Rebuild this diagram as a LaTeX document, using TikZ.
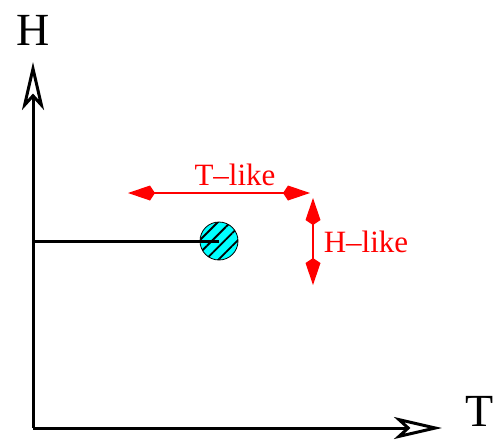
\documentclass[tikz,border=0pt]{standalone}
\usepackage{fontspec}
\setmainfont{Liberation Serif}
\usetikzlibrary{arrows.meta,patterns.meta}
\definecolor{cyanrgb}{RGB}{0,255,255}
\definecolor{redrgb}{RGB}{255,0,0}
\begin{document}
\begin{tikzpicture}[x=1pt,y=-1pt,
  axis/.style={line width=3pt,-{Stealth[open,length=48pt,width=22pt,inset=12pt,line width=3pt]}},
  redarr/.style={redrgb,line width=2pt,{Kite[length=27pt,width=15pt,inset=5pt]}-{Kite[length=27pt,width=15pt,inset=5pt]}},
  lbl/.style={redrgb,font=\fontsize{31}{34}\selectfont,inner sep=0pt},
  axlbl/.style={font=\fontsize{46}{50}\selectfont,inner sep=0pt}]
\useasboundingbox (0,0) rectangle (495,440);
\coordinate (O) at (33,428);
\coordinate (Htip) at (33,62);
\coordinate (Ttip) at (442,428);
\draw[axis] (O) -- (Htip);
\draw[axis] (O) -- (Ttip);
\node[axlbl] (H) at (33,30) {H};
\node[axlbl] (T) at (480,411) {T};
\coordinate (L) at (33,241);
\node[circle,draw=black,line width=0.8pt,minimum size=38pt,inner sep=0pt,
  preaction={fill=cyanrgb},pattern={Lines[angle=45,distance=9pt,line width=1.8pt]},pattern color=black] (P) at (219,241) {};
\draw[line width=3pt] (L) -- (P.center);
\coordinate (TL1) at (128,193);
\coordinate (TL2) at (310,193);
\draw[redarr] (TL1) -- (TL2);
\node[lbl] (tl) at (235,175) {T--like};
\coordinate (HL1) at (313,198);
\coordinate (HL2) at (313,285);
\draw[redarr] (HL1) -- (HL2);
\node[lbl] (hl) at (366,242) {H--like};
\end{tikzpicture}
\end{document}
